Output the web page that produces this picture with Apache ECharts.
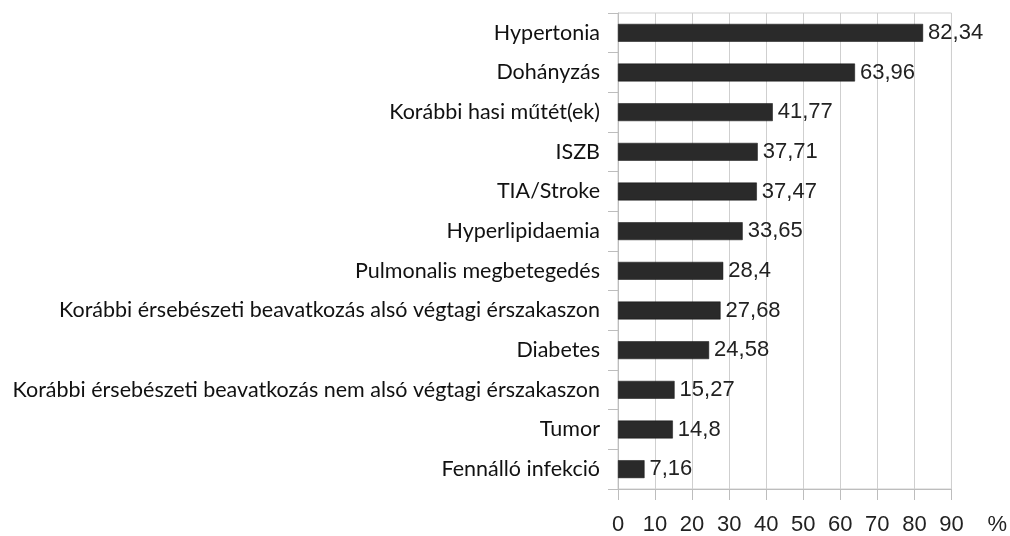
<!DOCTYPE html>
<html><head><meta charset="utf-8">
<script src="https://cdn.jsdelivr.net/npm/echarts@6/dist/echarts.min.js"></script>
<style>html,body{margin:0;padding:0;background:#fff}#c{width:1010px;height:536px}</style>
</head><body><div id="c"></div>
<script>
const categories = ["Hypertonia","Dohányzás","Korábbi hasi műtét(ek)","ISZB","TIA/Stroke","Hyperlipidaemia","Pulmonalis megbetegedés","Korábbi érsebészeti beavatkozás alsó végtagi érszakaszon","Diabetes","Korábbi érsebészeti beavatkozás nem alsó végtagi érszakaszon","Tumor","Fennálló infekció"];
const values = [82.34,63.96,41.77,37.71,37.47,33.65,28.4,27.68,24.58,15.27,14.8,7.16];
const valueLabels = ["82,34","63,96","41,77","37,71","37,47","33,65","28,4","27,68","24,58","15,27","14,8","7,16"];
const xMin = 0, xMax = 90, xStep = 10, xUnit = "%";

const chart = echarts.init(document.getElementById('c'));
chart.setOption({
  animation:false,
  backgroundColor:'#fff',
  grid:{left:618,right:58,top:13,bottom:44,show:true,borderColor:'#cfcfcf',borderWidth:1,containLabel:false},
  xAxis:{type:'value',min:xMin,max:xMax,interval:xStep,
    name:xUnit,nameLocation:'end',nameGap:36,
    nameTextStyle:{fontFamily:'Liberation Sans',fontSize:22,color:'#222',verticalAlign:'top',padding:[25,0,0,0]},
    axisLine:{show:true,lineStyle:{color:'#bdbdbd'}},
    axisTick:{show:true,length:11,lineStyle:{color:'#bdbdbd'}},
    axisLabel:{fontFamily:'Liberation Sans',fontSize:22,color:'#222',margin:25},
    splitLine:{show:true,lineStyle:{color:'#cfcfcf'}}},
  yAxis:{type:'category',data:categories,inverse:true,
    axisLine:{show:true,lineStyle:{color:'#bdbdbd'}},
    axisTick:{show:true,length:10,lineStyle:{color:'#bdbdbd'}},
    axisLabel:{fontFamily:'Lato',fontSize:21.5,color:'#111',margin:18},
    splitLine:{show:false}},
  series:[{type:'bar',data:values,barCategoryGap:'55%',
    itemStyle:{color:'#2a2a2a',borderColor:'#111',borderWidth:0.5},
    label:{show:true,position:'right',distance:5,fontFamily:'Liberation Sans',fontSize:22,color:'#222',
      formatter:p=>valueLabels[p.dataIndex]}}]
});
</script></body></html>
